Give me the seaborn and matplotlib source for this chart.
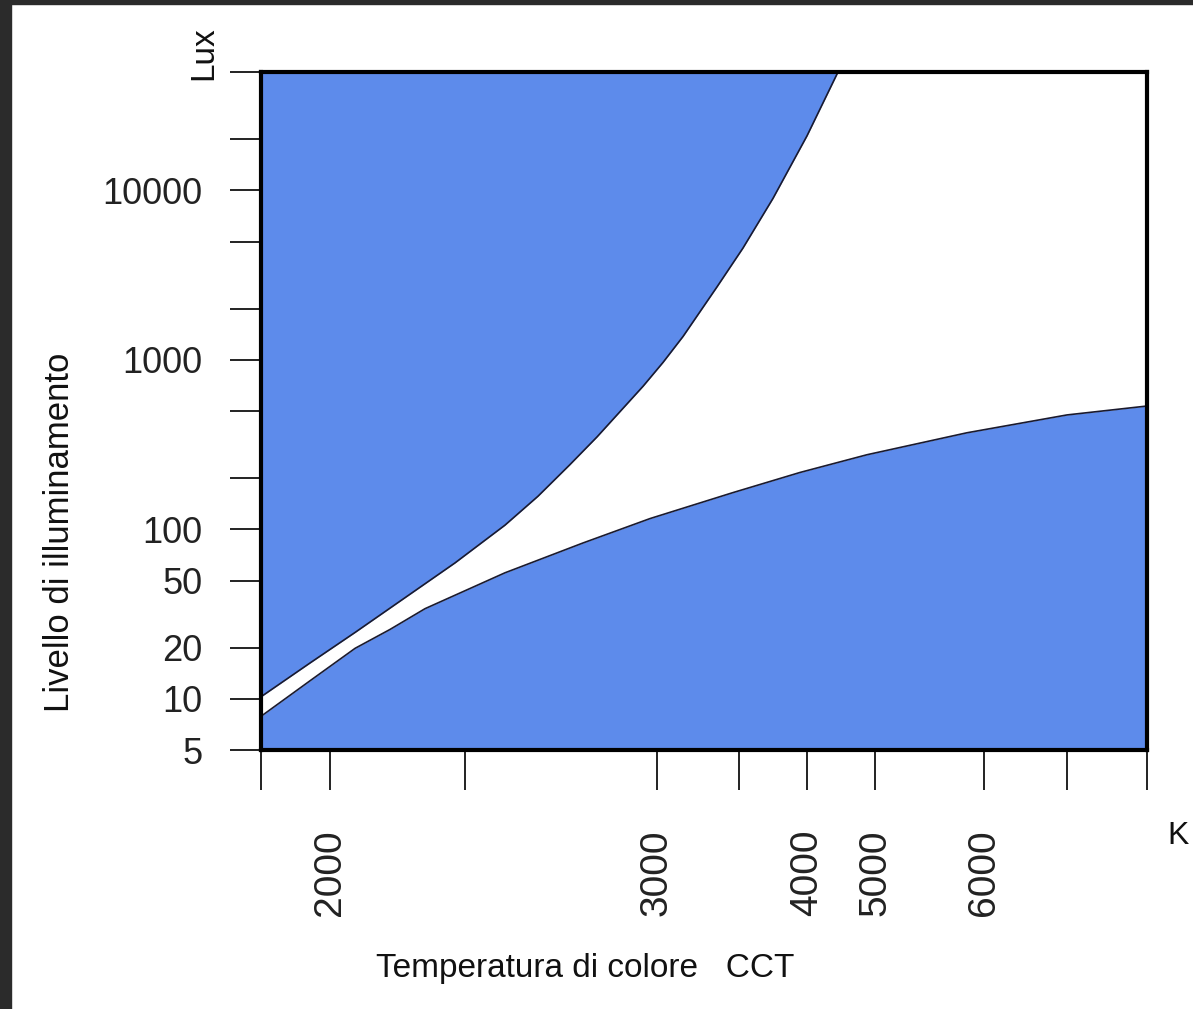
import numpy as np
import pandas as pd
import matplotlib
matplotlib.use("Agg")
import matplotlib.pyplot as plt
from matplotlib.patches import Rectangle
import seaborn as sns

# Kruithof-style comfort region: illuminance vs. colour temperature
upper_cct = [1800, 1942, 2093, 2278, 2463, 2604, 2690, 2773, 2844, 2964, 3037,
             3159, 3366, 3529, 3750, 4000, 4456]
upper_lux = [10.3, 16.3, 24.7, 39.6, 63.5, 106, 157, 241, 352, 701, 968,
             1377, 2700, 4570, 8980, 21000, 50000]

lower_cct = [1800, 1942, 2093, 2222, 2352, 2604, 2807, 2982, 3463, 3949, 4882, 5844, 7000, 8000]
lower_lux = [7.9, 12.8, 19.9, 25.7, 34.1, 55.5, 83.2, 116, 165, 217, 276, 372, 474, 535]

x_ticks = [1800, 2000, 2500, 3000, 3500, 4000, 5000, 6000, 7000, 8000]
x_labels = ["", "2000", "", "3000", "", "4000", "5000", "6000", "", ""]
y_ticks = [5, 10, 20, 50, 100, 200, 500, 1000, 2000, 5000, 10000, 20000, 50000]
y_labels = ["5", "10", "20", "50", "100", "", "", "1000", "", "", "10000", "", ""]

# the CCT axis is hand-spaced: tick values mapped onto an uneven ruler
ruler_pos = np.array([0.0, 69, 204, 396, 478, 546, 614, 723, 806, 886])
ruler_cct = np.array(x_ticks, dtype=float)


def cct_forward(v):
    return np.interp(v, ruler_cct, ruler_pos)


def cct_inverse(p):
    return np.interp(p, ruler_pos, ruler_cct)


sns.set_theme(style="white")
plt.rcParams["font.family"] = ["Liberation Sans", "DejaVu Sans"]

fill_color = "#5d8beb"

fig = plt.figure(figsize=(11.93, 10.09), dpi=100)
fig.patch.set_facecolor("white")
ax = fig.add_axes([261 / 1193, 1 - 750 / 1009, 886 / 1193, 678 / 1009])

ax.set_xscale("function", functions=(cct_forward, cct_inverse))
ax.set_yscale("log")
ax.set_xlim(1800, 8000)
ax.set_ylim(5, 50000)

upper = pd.DataFrame({"cct": upper_cct, "lux": upper_lux})
lower = pd.DataFrame({"cct": lower_cct, "lux": lower_lux})

ax.fill_between(upper["cct"], upper["lux"], 50000, color=fill_color, lw=0, zorder=1)
ax.fill_between(lower["cct"], 5, lower["lux"], color=fill_color, lw=0, zorder=1)
sns.lineplot(data=upper, x="cct", y="lux", ax=ax, color="#1a1a2e", lw=1.2,
             sort=False, estimator=None, zorder=2)
sns.lineplot(data=lower, x="cct", y="lux", ax=ax, color="#1a1a2e", lw=1.2,
             sort=False, estimator=None, zorder=2)

ax.set_xticks(x_ticks)
ax.set_xticklabels(x_labels)
ax.set_yticks(y_ticks)
ax.set_yticklabels(y_labels)
ax.yaxis.set_minor_locator(matplotlib.ticker.NullLocator())
ax.xaxis.set_minor_locator(matplotlib.ticker.NullLocator())

ax.tick_params(axis="x", direction="out", length=29, width=1.4, pad=28,
               labelsize=28, labelrotation=90, colors="#222222", bottom=True)
ax.tick_params(axis="y", direction="out", length=22, width=1.4, pad=20,
               labelsize=26, colors="#222222", left=True)

for s in ax.spines.values():
    s.set_visible(True)
    s.set_color("black")
    s.set_linewidth(3)

ax.set_xlabel("")
ax.set_ylabel("")

fig.text(60 / 1193, 1 - 532 / 1009, "Livello di illuminamento", rotation=90,
         ha="center", va="center", fontsize=25, color="#111111")
fig.text(585 / 1193, 1 - 968 / 1009, "Temperatura di colore   CCT",
         ha="center", va="center", fontsize=24, color="#111111")
fig.text(204 / 1193, 1 - 53 / 1009, "Lux", rotation=90,
         ha="center", va="center", fontsize=24, color="#111111")
fig.text(1178 / 1193, 1 - 836 / 1009, "K",
         ha="center", va="center", fontsize=23, color="#111111")

# dark page edge on the left and top
fig.patches.append(Rectangle((0, 0), 11 / 1193, 1, transform=fig.transFigure,
                             color="#2b2b2b", zorder=10))
fig.patches.append(Rectangle((0, 1 - 4 / 1009), 1, 4 / 1009, transform=fig.transFigure,
                             color="#2b2b2b", zorder=10))

fig.savefig("out.png", dpi=100)
